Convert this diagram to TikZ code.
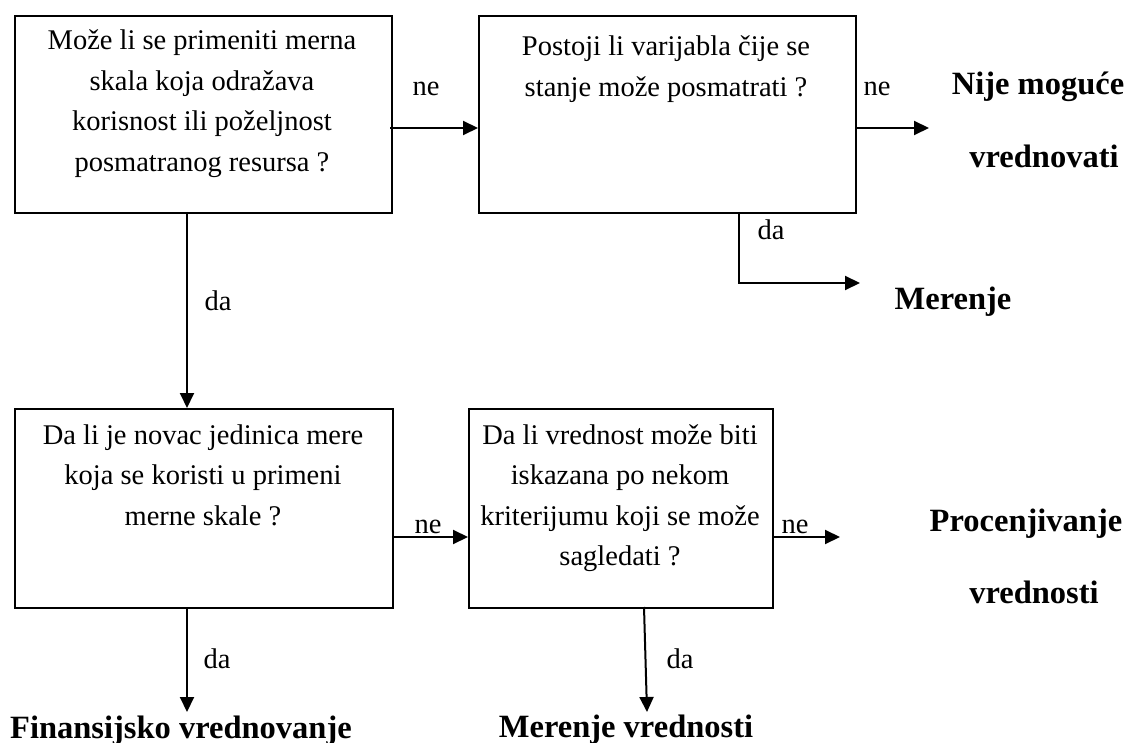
\documentclass[tikz,border=0pt]{standalone}
\usepackage{fontspec}
\setmainfont{Liberation Serif}
\usetikzlibrary{arrows.meta,calc}
\begin{document}
\begin{tikzpicture}[x=1pt,y=-1pt,
  box/.style={draw,line width=2pt,inner sep=0pt,anchor=north west},
  qtext/.style={align=flush center,font=\fontsize{28.5}{40.5}\selectfont,inner sep=0pt,anchor=base},
  lbl/.style={font=\fontsize{28.5}{32}\selectfont,inner sep=0pt,anchor=base},
  res/.style={font=\fontsize{32.5}{36}\selectfont\bfseries,inner sep=0pt,anchor=base},
  arr/.style={line width=2pt,-{Triangle[length=15pt,width=14pt]}}]
\useasboundingbox (0,0) rectangle (1127,743);
% boxes
\node[box,minimum width=377pt,minimum height=197pt] (b1) at (14,15) {};
\node[box,minimum width=377pt,minimum height=197pt] (b2) at (478,15) {};
\node[box,minimum width=378pt,minimum height=199pt] (b3) at (14,408) {};
\node[box,minimum width=304pt,minimum height=199pt] (b4) at (468,408) {};
% texts
\node[qtext,text width=370pt] (t1) at (202,50) {Može li se primeniti merna\\skala koja odražava\\korisnost ili poželjnost\\posmatranog resursa ?};
\node[qtext,text width=370pt] (t2) at (666,56) {Postoji li varijabla čije se\\stanje može posmatrati ?};
\node[qtext,text width=372pt] (t3) at (203,444) {Da li je novac jedinica mere\\koja se koristi u primeni\\merne skale ?};
\node[qtext,text width=300pt] (t4) at (620,444) {Da li vrednost može biti\\iskazana po nekom\\kriterijumu koji se može\\sagledati ?};
% results
\node[res] (r1a) at (1038,95) {Nije moguće};
\node[res] (r1b) at (1044,168) {vrednovati};
\node[res] (r2) at (953,309) {Merenje};
\node[res] (r3a) at (1026,531) {Procenjivanje};
\node[res] (r3b) at (1034,603) {vrednosti};
\node[res] (r4) at (181,738) {Finansijsko vrednovanje};
\node[res] (r5) at (626,737) {Merenje vrednosti};
% coordinates
\coordinate (c12) at (390,128);
\coordinate (c2r) at (929,128);
\coordinate (c2d) at (739,212);
\coordinate (c2k) at (739,283);
\coordinate (c2e) at (860,283);
\coordinate (c1d) at (187,212);
\coordinate (c34) at (392,537);
\coordinate (c4r) at (840,537);
\coordinate (c3d) at (187,607);
\coordinate (c3e) at (187,712);
\coordinate (c4d) at (644,607);
\coordinate (c4e) at (647,712);
% connectors
\draw[arr] (c12) -- (c12 -| b2.west);
\draw[arr] (c12 -| b2.east) -- (c2r);
\draw[arr] (c2d) -- (c2k) -- (c2e);
\draw[arr] (c1d) -- (c1d |- b3.north);
\draw[arr] (c34) -- (c34 -| b4.west);
\draw[arr] (c34 -| b4.east) -- (c4r);
\draw[arr] (c3d) -- (c3e);
\draw[arr] (c4d) -- (c4e);
% labels
\node[lbl] at (426,96) {ne};
\node[lbl] at (877,96) {ne};
\node[lbl] at (771,240) {da};
\node[lbl] at (218,310) {da};
\node[lbl] at (428,533) {ne};
\node[lbl] at (795,533) {ne};
\node[lbl] at (217,668) {da};
\node[lbl] at (680,668) {da};
\end{tikzpicture}
\end{document}
